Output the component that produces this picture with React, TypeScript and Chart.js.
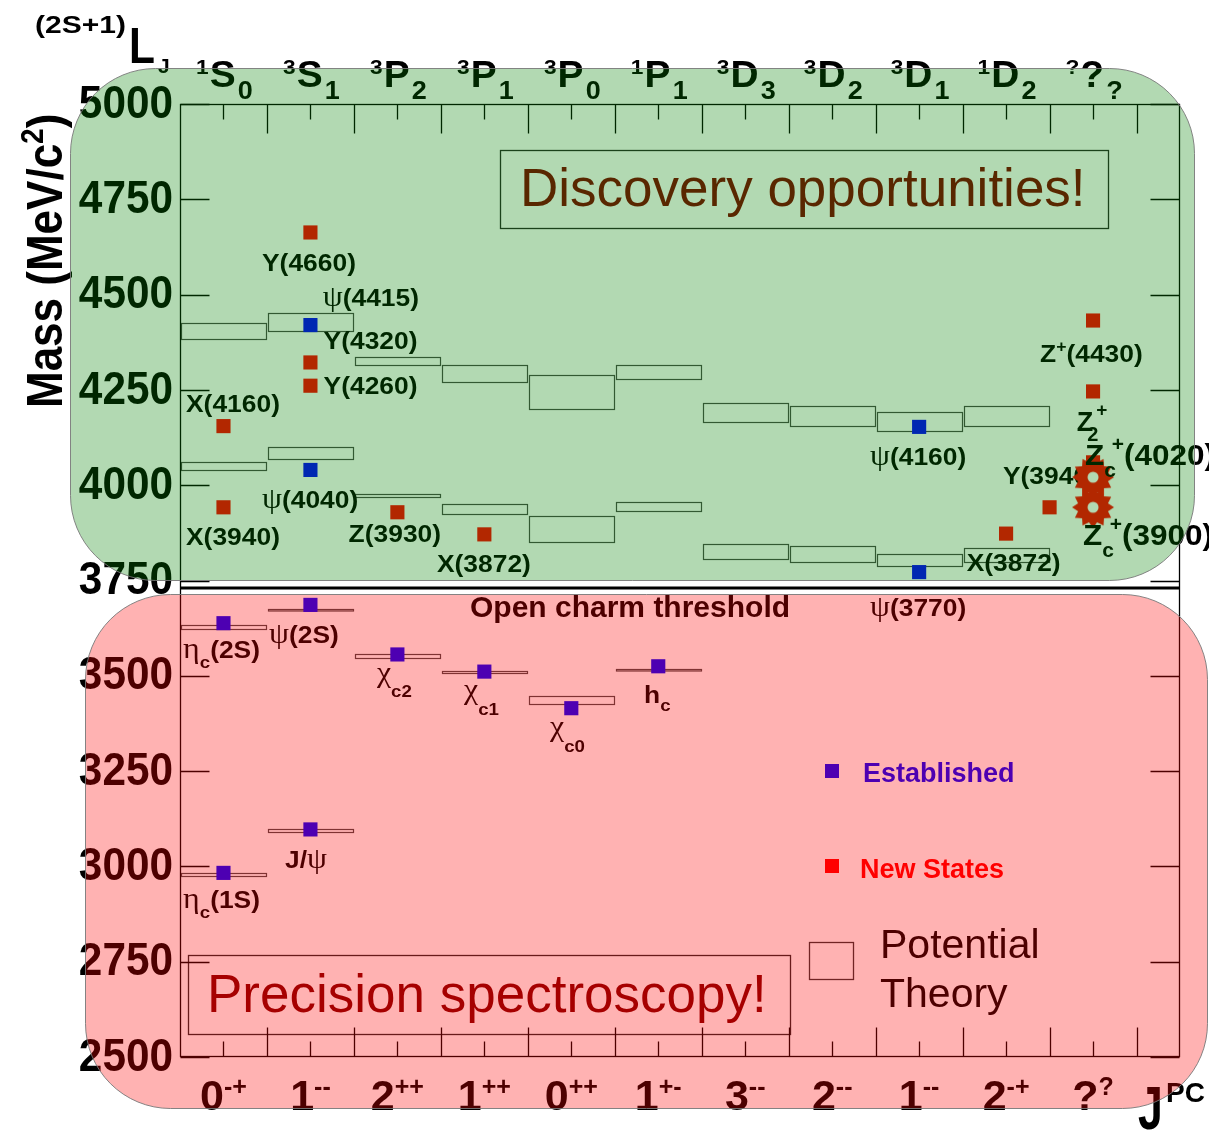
import { useEffect, useRef } from 'react';
import { Chart, registerables } from 'chart.js';

Chart.register(...registerables);

const SANS = '"Liberation Sans", Arial, Helvetica, sans-serif';
const SERIF = '"Liberation Serif", "DejaVu Serif", serif';

// ---------------- data ----------------
// J^PC categories (bottom axis)
const jpcNumber = ['0', '1', '2', '1', '0', '1', '3', '2', '1', '2', '?'];
const jpcSign = ['-+', '--', '++', '++', '++', '+-', '--', '--', '--', '-+', '?'];
// spectroscopic notation (top axis)
const specPre = ['1', '3', '3', '3', '3', '1', '3', '3', '3', '1', '?'];
const specL = ['S', 'S', 'P', 'P', 'P', 'P', 'D', 'D', 'D', 'D', '?'];
const specJ = ['0', '1', '2', '1', '0', '1', '3', '2', '1', '2', '?'];

const massTicks = [2500, 2750, 3000, 3250, 3500, 3750, 4000, 4250, 4500, 4750, 5000];

// established states (category index, mass MeV)
const establishedCat = [0, 0, 1, 1, 1, 1, 2, 3, 4, 5, 8, 8];
const establishedMass = [2983, 3638, 3097, 3686, 4040, 4420, 3556, 3511, 3415, 3525, 3772, 4153];

// new states
const newStateCat = [0, 0, 1, 1, 1, 2, 3, 9, 9.5, 10, 10, 10];
const newStateMass = [4155, 3942, 4663, 4322, 4261, 3929, 3871, 3873, 3942, 4432, 4246, 4060];

// Zc charged states (star markers)
const zcCat = [10, 10];
const zcMass = [4021, 3942];

// potential-theory predictions (category, low, high)
const theoryCat = [0, 1, 2, 3, 4, 5, 6, 7, 8, 9, 0, 1, 2, 3, 4, 5, 6, 7, 8, 9, 0, 1, 2, 3, 4, 5, 0, 1];
const theoryLow = [4384, 4405, 4316, 4272, 4200, 4279, 4167, 4156, 4141, 4156, 4040, 4070, 3969, 3925, 3851, 3932, 3806, 3798, 3787, 3798, 3623, 3672, 3548, 3508, 3426, 3516, 2975, 3091];
const theoryHigh = [4425, 4451, 4335, 4316, 4290, 4316, 4215, 4208, 4193, 4208, 4062, 4101, 3978, 3951, 3918, 3956, 3846, 3840, 3820, 3836, 3632, 3675, 3556, 3512, 3446, 3519, 2983, 3099];

const openCharmThreshold = 3730;

// ---------------- text helpers ----------------
type Seg = { t: string; f: string; dy?: number; dx?: number; adv?: boolean };
const bold = (s: number) => `bold ${s}px ${SANS}`;
const reg = (s: number) => `${s}px ${SANS}`;
const greek = (s: number) => `${s}px ${SERIF}`;
const B = (t: string): Seg => ({ t, f: bold(24) });
const G = (t: string): Seg => ({ t, f: greek(29) });
const SUB = (t: string, dy: number): Seg => ({ t, f: bold(17), dy });
const SUP = (t: string, dy: number): Seg => ({ t, f: bold(16), dy });

type Label = { x: number; m: number; segs: Seg[]; sx?: number };

const stateLabels: Label[] = [
  { x: 0.943, m: 4563, segs: [B('Y(4660)')] },
  { x: 1.641, m: 4471, segs: [G('ψ'), B('(4415)')] },
  { x: 1.651, m: 4357, segs: [B('Y(4320)')] },
  { x: 1.651, m: 4238, segs: [B('Y(4260)')] },
  { x: 0.069, m: 4191, segs: [B('X(4160)')] },
  { x: 0.943, m: 3939, segs: [G('ψ'), B('(4040)')] },
  { x: 0.069, m: 3842, segs: [B('X(3940)')] },
  { x: 1.939, m: 3851, segs: [B('Z(3930)')] },
  { x: 2.955, m: 3772, segs: [B('X(3872)')] },
  { x: 7.935, m: 4052, segs: [G('ψ'), B('(4160)')] },
  { x: 9.464, m: 4002, segs: [B('Y(3940)')] },
  { x: 9.047, m: 3775, segs: [B('X(3872)')] },
  { x: 9.89, m: 4322, segs: [B('Z'), SUP('+', -10), B('(4430)')] },
  { x: 7.935, m: 3658, segs: [G('ψ'), B('(3770)')] },
  { x: 3.335, m: 3653, segs: [{ t: 'Open charm threshold', f: bold(30) }], sx: 1 },
  { x: 0.035, m: 3546, segs: [G('η'), SUB('c', 10), B('(2S)')] },
  { x: 1.023, m: 3585, segs: [G('ψ'), B('(2S)')] },
  { x: 2.265, m: 3483, segs: [G('χ'), SUB('c2', 15)] },
  { x: 3.266, m: 3438, segs: [G('χ'), SUB('c1', 16)] },
  { x: 4.255, m: 3341, segs: [G('χ'), SUB('c0', 16)] },
  { x: 5.336, m: 3428, segs: [B('h'), SUB('c', 8)] },
  { x: 1.207, m: 2995, segs: [B('J/'), G('ψ')] },
  { x: 0.035, m: 2891, segs: [G('η'), SUB('c', 10), B('(1S)')] },
];

const zLabels: Label[] = [
  { x: 10.312, m: 4143, segs: [{ t: 'Z', f: bold(27) }, { t: '+', f: bold(19), dy: -15, dx: 3, adv: false }, { t: '2', f: bold(20), dy: 10, dx: -6 }], sx: 1 },
  { x: 10.407, m: 4052, segs: [{ t: 'Z', f: bold(30) }, { t: 'c', f: bold(20), dy: 12 }, { t: '+', f: bold(20), dy: -14, dx: -4 }, { t: '(4020)', f: bold(30) }], sx: 1.05 },
  { x: 10.384, m: 3842, segs: [{ t: 'Z', f: bold(30) }, { t: 'c', f: bold(20), dy: 12 }, { t: '+', f: bold(20), dy: -14, dx: -4 }, { t: '(3900)', f: bold(30) }], sx: 1.05 },
];

function richWidth(ctx: CanvasRenderingContext2D, segs: Seg[]) {
  let w = 0;
  for (const s of segs) {
    ctx.font = s.f;
    if (s.adv !== false) w += ctx.measureText(s.t).width + (s.dx || 0);
  }
  return w;
}

function drawRich(ctx: CanvasRenderingContext2D, x: number, y: number, segs: Seg[], sx = 1) {
  ctx.save();
  ctx.translate(x, y);
  ctx.scale(sx, 1);
  ctx.textAlign = 'left';
  ctx.textBaseline = 'alphabetic';
  let cx = 0;
  for (const s of segs) {
    ctx.font = s.f;
    const dx = s.dx || 0;
    ctx.fillText(s.t, cx + dx, s.dy || 0);
    if (s.adv !== false) cx += ctx.measureText(s.t).width + dx;
  }
  ctx.restore();
}

function makeStar(): HTMLCanvasElement {
  const c = document.createElement('canvas');
  c.width = 46;
  c.height = 46;
  const g = c.getContext('2d')!;
  const n = 12;
  g.beginPath();
  for (let i = 0; i < n * 2; i++) {
    const r = i % 2 === 0 ? 21 : 15.5;
    const a = (Math.PI * i) / n - Math.PI / 2;
    const x = 23 + r * Math.cos(a);
    const y = 23 + r * Math.sin(a);
    if (i === 0) g.moveTo(x, y);
    else g.lineTo(x, y);
  }
  g.closePath();
  g.fillStyle = '#ff0000';
  g.fill();
  g.beginPath();
  g.arc(23, 23, 5.5, 0, Math.PI * 2);
  g.fillStyle = '#ffffff';
  g.fill();
  return c;
}

function roundRect(ctx: CanvasRenderingContext2D, x: number, y: number, w: number, h: number, r: number) {
  ctx.beginPath();
  ctx.moveTo(x + r, y);
  ctx.lineTo(x + w - r, y);
  ctx.arcTo(x + w, y, x + w, y + r, r);
  ctx.lineTo(x + w, y + h - r);
  ctx.arcTo(x + w, y + h, x + w - r, y + h, r);
  ctx.lineTo(x + r, y + h);
  ctx.arcTo(x, y + h, x, y + h - r, r);
  ctx.lineTo(x, y + r);
  ctx.arcTo(x, y, x + r, y, r);
  ctx.closePath();
}

const decorPlugin = {
  id: 'decor',
  beforeDatasetsDraw(chart: any) {
    const ctx: CanvasRenderingContext2D = chart.ctx;
    const xs = chart.scales.x;
    const ys = chart.scales.y;
    const a = chart.chartArea;
    const L = Math.round(a.left) + 0.5;
    const R = Math.round(a.right) - 0.5;
    const T = Math.round(a.top) + 0.5;
    const Bt = Math.round(a.bottom) - 0.5;
    ctx.save();
    ctx.fillStyle = '#000';

    // theory boxes
    ctx.strokeStyle = 'rgba(0,0,0,0.72)';
    ctx.lineWidth = 1.2;
    for (let k = 0; k < theoryCat.length; k++) {
      const x0 = Math.round(xs.getPixelForValue(theoryCat[k])) + 1.5;
      const x1 = Math.round(xs.getPixelForValue(theoryCat[k] + 1)) - 0.5;
      const y0 = Math.round(ys.getPixelForValue(theoryHigh[k])) + 0.5;
      const y1 = Math.round(ys.getPixelForValue(theoryLow[k])) + 0.5;
      ctx.strokeRect(x0, y0, x1 - x0, Math.max(y1 - y0, 1.5));
    }

    // open charm threshold line
    ctx.strokeStyle = '#000';
    ctx.lineWidth = 3;
    ctx.beginPath();
    const yth = ys.getPixelForValue(openCharmThreshold);
    ctx.moveTo(L, yth);
    ctx.lineTo(R, yth);
    ctx.stroke();

    // frame + ticks
    ctx.lineWidth = 1.3;
    ctx.strokeStyle = '#000';
    ctx.strokeRect(L, T, R - L, Bt - T);
    ctx.beginPath();
    for (const m of massTicks) {
      const y = Math.round(ys.getPixelForValue(m)) + 0.5;
      ctx.moveTo(L, y);
      ctx.lineTo(L + 29, y);
      ctx.moveTo(R - 29, y);
      ctx.lineTo(R, y);
    }
    for (let i = 0; i < jpcNumber.length; i++) {
      const xc = Math.round(xs.getPixelForValue(i + 0.5)) + 0.5;
      const xb = Math.round(xs.getPixelForValue(i + 1)) + 0.5;
      ctx.moveTo(xc, T);
      ctx.lineTo(xc, T + 15);
      ctx.moveTo(xc, Bt);
      ctx.lineTo(xc, Bt - 15);
      ctx.moveTo(xb, T);
      ctx.lineTo(xb, T + 29);
      ctx.moveTo(xb, Bt);
      ctx.lineTo(xb, Bt - 29);
    }
    ctx.stroke();

    // y tick labels
    for (const m of massTicks) {
      const y = ys.getPixelForValue(m);
      ctx.save();
      ctx.translate(a.left - 7, y + 1);
      ctx.scale(0.92, 1);
      ctx.font = bold(46);
      ctx.textAlign = 'right';
      ctx.textBaseline = 'middle';
      ctx.fillText(String(m), 0, 0);
      ctx.restore();
    }

    // y axis title (rotated)
    ctx.save();
    ctx.translate(62, 408);
    ctx.rotate(-Math.PI / 2);
    ctx.scale(1, 1.12);
    drawRich(ctx, 0, 0, [{ t: 'Mass (MeV/c', f: bold(44) }, { t: '2', f: bold(28), dy: -17 }, { t: ')', f: bold(44) }]);
    ctx.restore();

    // bottom J^PC labels
    for (let i = 0; i < jpcNumber.length; i++) {
      const segs: Seg[] = [{ t: jpcNumber[i], f: bold(43) }, { t: jpcSign[i], f: bold(25), dy: -15 }];
      const w = richWidth(ctx, segs);
      drawRich(ctx, xs.getPixelForValue(i + 0.5) - w / 2, 1110, segs);
    }
    drawRich(ctx, 1138, 1129, [{ t: 'J', f: bold(62) }], 0.72);
    drawRich(ctx, 1166, 1102, [{ t: 'PC', f: bold(28) }]);

    // top spectroscopic labels
    drawRich(ctx, 35, 33, [{ t: '(2S+1)', f: bold(24) }], 1.25);
    drawRich(ctx, 129, 63, [{ t: 'L', f: bold(50) }], 0.85);
    drawRich(ctx, 158, 73, [{ t: 'J', f: bold(21) }]);
    for (let i = 0; i < specL.length; i++) {
      const segs: Seg[] = [
        { t: specPre[i], f: bold(21), dy: -13 },
        { t: specL[i], f: bold(36), dx: 1 },
        { t: specJ[i], f: bold(25), dy: 12, dx: 2 },
      ];
      const sx = 1.08;
      const w = richWidth(ctx, segs) * sx;
      drawRich(ctx, xs.getPixelForValue(i + 0.5) - w / 2 + 1, 87, segs, sx);
    }

    // state labels
    for (const lb of stateLabels) {
      drawRich(ctx, xs.getPixelForValue(lb.x), ys.getPixelForValue(lb.m), lb.segs, lb.sx ?? 1.1);
    }

    // annotation boxes
    ctx.lineWidth = 1.3;
    ctx.strokeStyle = 'rgba(0,0,0,0.85)';
    ctx.strokeRect(500.5, 150.5, 608, 78);
    ctx.strokeRect(188.5, 955.5, 602, 79);
    ctx.fillStyle = '#800000';
    drawRich(ctx, 520, 206, [{ t: 'Discovery opportunities!', f: reg(53) }]);
    drawRich(ctx, 207, 1012, [{ t: 'Precision spectroscopy!', f: reg(53) }]);

    // legend
    ctx.fillStyle = '#0000ff';
    ctx.fillRect(825, 764, 14, 14);
    drawRich(ctx, 863, 782, [{ t: 'Established', f: bold(27) }]);
    ctx.fillStyle = '#ff0000';
    ctx.fillRect(825, 859, 14, 14);
    drawRich(ctx, 860, 878, [{ t: 'New States', f: bold(27) }]);
    ctx.strokeStyle = 'rgba(0,0,0,0.8)';
    ctx.strokeRect(809.5, 942.5, 44, 37);
    ctx.fillStyle = '#000';
    drawRich(ctx, 880, 958, [{ t: 'Potential', f: reg(41) }]);
    drawRich(ctx, 880, 1007, [{ t: 'Theory', f: reg(41) }]);

    ctx.restore();
  },
  afterDatasetsDraw(chart: any) {
    const ctx: CanvasRenderingContext2D = chart.ctx;
    const xs = chart.scales.x;
    const ys = chart.scales.y;
    ctx.save();
    ctx.fillStyle = '#000';
    for (const lb of zLabels) {
      drawRich(ctx, xs.getPixelForValue(lb.x), ys.getPixelForValue(lb.m), lb.segs, lb.sx ?? 1);
    }
    ctx.restore();
  },
  afterDraw(chart: any) {
    const ctx: CanvasRenderingContext2D = chart.ctx;
    ctx.save();
    ctx.lineWidth = 1;
    ctx.strokeStyle = 'rgba(120,120,120,0.9)';
    roundRect(ctx, 70.5, 68.5, 1124, 512, 85);
    ctx.fillStyle = 'rgba(0,128,0,0.3)';
    ctx.fill();
    ctx.stroke();
    roundRect(ctx, 85.5, 594.5, 1122, 514, 85);
    ctx.fillStyle = 'rgba(255,0,0,0.3)';
    ctx.fill();
    ctx.stroke();
    ctx.restore();
  },
};

export default function App() {
  const ref = useRef<HTMLCanvasElement | null>(null);
  useEffect(() => {
    document.body.style.margin = '0';
    const canvas = ref.current;
    if (!canvas) return;
    const star = makeStar();
    const chart = new Chart(canvas, {
      type: 'scatter',
      data: {
        datasets: [
          {
            label: 'Zc',
            data: zcCat.map((c, i) => ({ x: c + 0.5, y: zcMass[i] })),
            pointStyle: star as any,
            pointRadius: 21,
            backgroundColor: '#ff0000',
          },
          {
            label: 'Established',
            data: establishedCat.map((c, i) => ({ x: c + 0.5, y: establishedMass[i] })),
            pointStyle: 'rect',
            pointRadius: 10,
            pointHoverRadius: 10,
            borderWidth: 0,
            backgroundColor: '#0000ff',
          },
          {
            label: 'New States',
            data: newStateCat.map((c, i) => ({ x: c + 0.5, y: newStateMass[i] })),
            pointStyle: 'rect',
            pointRadius: 10,
            pointHoverRadius: 10,
            borderWidth: 0,
            backgroundColor: '#ff0000',
          },
        ],
      },
      options: {
        responsive: false,
        animation: false,
        devicePixelRatio: 1,
        events: [],
        layout: { padding: { left: 180, top: 104, right: 29, bottom: 79 } },
        scales: {
          x: { type: 'linear', min: 0, max: 11.5, display: false },
          y: { type: 'linear', min: 2500, max: 5000, display: false },
        },
        plugins: { legend: { display: false }, tooltip: { enabled: false }, title: { display: false } },
      },
      plugins: [decorPlugin],
    });
    return () => chart.destroy();
  }, []);
  return (
    <div style={{ width: 1209, height: 1136, position: 'relative' }}>
      <canvas ref={ref} width={1209} height={1136} style={{ display: 'block' }} />
    </div>
  );
}
